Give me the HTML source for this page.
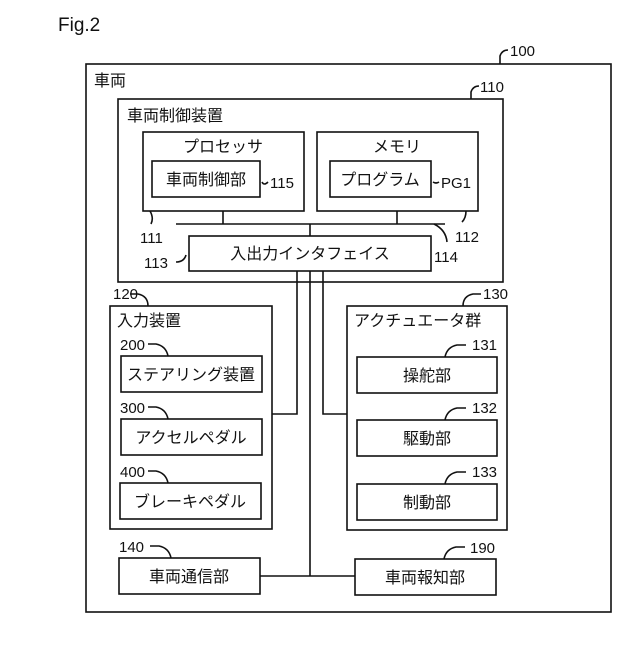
<!DOCTYPE html>
<html><head><meta charset="utf-8"><style>
body{margin:0;background:#fff}
svg text{font-family:"Liberation Sans","Noto Sans CJK JP",sans-serif;fill:#111}
</style></head><body>
<svg width="640" height="640" viewBox="0 0 640 640" xmlns="http://www.w3.org/2000/svg">
<g fill="none" stroke="#111" stroke-width="1.6">
<rect x="86" y="64" width="525" height="548"/>
<rect x="118" y="99" width="385" height="183"/>
<rect x="143" y="132" width="161" height="79"/>
<rect x="152" y="161" width="108" height="36"/>
<rect x="317" y="132" width="161" height="79"/>
<rect x="330" y="161" width="101" height="36"/>
<rect x="189" y="236" width="242" height="35"/>
<rect x="110" y="306" width="162" height="223"/>
<rect x="121" y="356" width="141" height="36"/>
<rect x="121" y="419" width="141" height="36"/>
<rect x="120" y="483" width="141" height="36"/>
<rect x="347" y="306" width="160" height="224"/>
<rect x="357" y="357" width="140" height="36"/>
<rect x="357" y="420" width="140" height="36"/>
<rect x="357" y="484" width="140" height="36"/>
<rect x="119" y="558" width="141" height="36"/>
<rect x="355" y="559" width="141" height="36"/>
<path d="M176 224H445M223 211V224M397 211V224M310 224V236"/>
<path d="M297 271V414H272M323 271V414H347M310 271V576M260 576H355"/>
<path d="M500 64V56Q502 50 508 50M471 99V92Q473 86 479 86M148 306Q148 296 138 294H130M463 306Q463 296 473 294H481"/>
<path d="M168 356Q166 346 156 344H148M168 419Q166 409 156 407H148M168 483Q166 473 156 471H148"/>
<path d="M445 357Q447 347 457 345H466M445 420Q447 410 457 408H466M445 484Q447 474 457 472H466"/>
<path d="M171 558Q169 548 159 546H150M444 559Q446 549 456 547H465"/>
<path d="M150 211Q154 218 151 224M466 211Q466 218 462 222M434 224Q446 230 447 242M186 255Q184 262 176 262"/>
<path d="M262 182Q264 186 268 182M433 182Q436 184 439 182"/>
</g>
<g font-size="15">
<text x="58" y="31" font-size="19">Fig.2</text>
<text x="510" y="56">100</text>
<text x="480" y="92">110</text>
<text x="94" y="86" font-size="16">車両</text>
<text x="127" y="121" font-size="16">車両制御装置</text>
<text x="223" y="152" font-size="16" text-anchor="middle">プロセッサ</text>
<text x="397" y="152" font-size="16" text-anchor="middle">メモリ</text>
<text x="206" y="185" font-size="16" text-anchor="middle">車両制御部</text>
<text x="380" y="185" font-size="16" text-anchor="middle">プログラム</text>
<text x="270" y="188">115</text>
<text x="441" y="188">PG1</text>
<text x="140" y="243">111</text>
<text x="455" y="242">112</text>
<text x="144" y="268">113</text>
<text x="434" y="262">114</text>
<text x="310" y="259" font-size="16" text-anchor="middle">入出力インタフェイス</text>
<text x="113" y="299">120</text>
<text x="483" y="299">130</text>
<text x="117" y="326" font-size="16">入力装置</text>
<text x="354" y="326" font-size="16">アクチュエータ群</text>
<text x="120" y="350">200</text>
<text x="120" y="413">300</text>
<text x="120" y="477">400</text>
<text x="472" y="350">131</text>
<text x="472" y="413">132</text>
<text x="472" y="477">133</text>
<text x="191" y="380" font-size="16" text-anchor="middle">ステアリング装置</text>
<text x="191" y="443" font-size="16" text-anchor="middle">アクセルペダル</text>
<text x="190" y="507" font-size="16" text-anchor="middle">ブレーキペダル</text>
<text x="427" y="381" font-size="16" text-anchor="middle">操舵部</text>
<text x="427" y="444" font-size="16" text-anchor="middle">駆動部</text>
<text x="427" y="508" font-size="16" text-anchor="middle">制動部</text>
<text x="119" y="552">140</text>
<text x="470" y="553">190</text>
<text x="189" y="582" font-size="16" text-anchor="middle">車両通信部</text>
<text x="425" y="583" font-size="16" text-anchor="middle">車両報知部</text>
</g>
</svg>
</body></html>
